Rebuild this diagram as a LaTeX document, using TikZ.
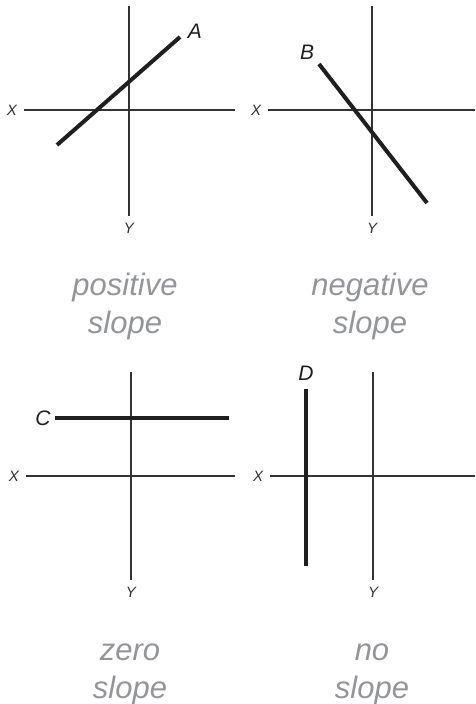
\documentclass[tikz,border=0pt]{standalone}
\usepackage{fontspec}
\setmainfont{Liberation Sans}
\usetikzlibrary{positioning}
\definecolor{axisGray}{HTML}{333333}
\colorlet{lineBlack}{black!88}
\definecolor{captionGray}{HTML}{939598}

\begin{document}
\begin{tikzpicture}[x=1pt, y=-1pt, every node/.style={font=\itshape, align=center, inner sep=0pt},
        axis/.style={draw=axisGray, line width=1.2pt},
        slope/.style={draw=lineBlack, line width=4pt},
        axislabel/.style={font=\fontsize{15}{17}\selectfont\itshape, text=axisGray, inner sep=7pt},
        pointlabel/.style={font=\fontsize{21}{24}\selectfont\itshape, text=lineBlack},
        caption/.style={font=\fontsize{31}{38}\selectfont\itshape, text=captionGray}]
        \useasboundingbox (0,0) rectangle (475,704);

        % positive slope
        \node[axislabel] (x1) at (12,110) {X};
        \node[axislabel] (y1) at (129,228) {Y};
        \coordinate (x1end) at (235,110);
        \coordinate (y1top) at (129,6);
        \draw[axis] (x1) -- (x1end);
        \draw[axis] (y1top) -- (y1);
        \coordinate (a1) at (57,145);
        \coordinate (a2) at (180,37);
        \draw[slope] (a1) -- (a2);
        \node[pointlabel] (lineA) at (195,31) {A};
        \node[caption] (positive) at (125,306) {positive\\slope};

        % negative slope
        \node[axislabel] (x2) at (256,110) {X};
        \node[axislabel] (y2) at (372,228) {Y};
        \coordinate (x2end) at (475,110);
        \coordinate (y2top) at (372,6);
        \draw[axis] (x2) -- (x2end);
        \draw[axis] (y2top) -- (y2);
        \coordinate (b1) at (319,64);
        \coordinate (b2) at (427,203);
        \draw[slope] (b1) -- (b2);
        \node[pointlabel] (lineB) at (307,52) {B};
        \node[caption] (negative) at (370,306) {negative\\slope};

        % zero slope
        \node[axislabel] (x3) at (14,476) {X};
        \node[axislabel] (y3) at (131,592) {Y};
        \coordinate (x3end) at (235,476);
        \coordinate (y3top) at (131,372);
        \draw[axis] (x3) -- (x3end);
        \draw[axis] (y3top) -- (y3);
        \node[pointlabel, inner sep=4pt] (lineC) at (43,418) {C};
        \coordinate (c2) at (229,418);
        \draw[slope] (lineC) -- (c2);
        \node[caption] (zero) at (130,674) {zero\\slope};

        % no slope
        \node[axislabel] (x4) at (258,476) {X};
        \node[axislabel] (y4) at (373,592) {Y};
        \coordinate (x4end) at (475,476);
        \coordinate (y4top) at (373,372);
        \draw[axis] (x4) -- (x4end);
        \draw[axis] (y4top) -- (y4);
        \coordinate (d1) at (306,389);
        \coordinate (d2) at (306,566);
        \draw[slope] (d1) -- (d2);
        \node[pointlabel] (lineD) at (306,373) {D};
        \node[caption] (none) at (372,674) {no\\slope};
    \end{tikzpicture}
\end{document}
